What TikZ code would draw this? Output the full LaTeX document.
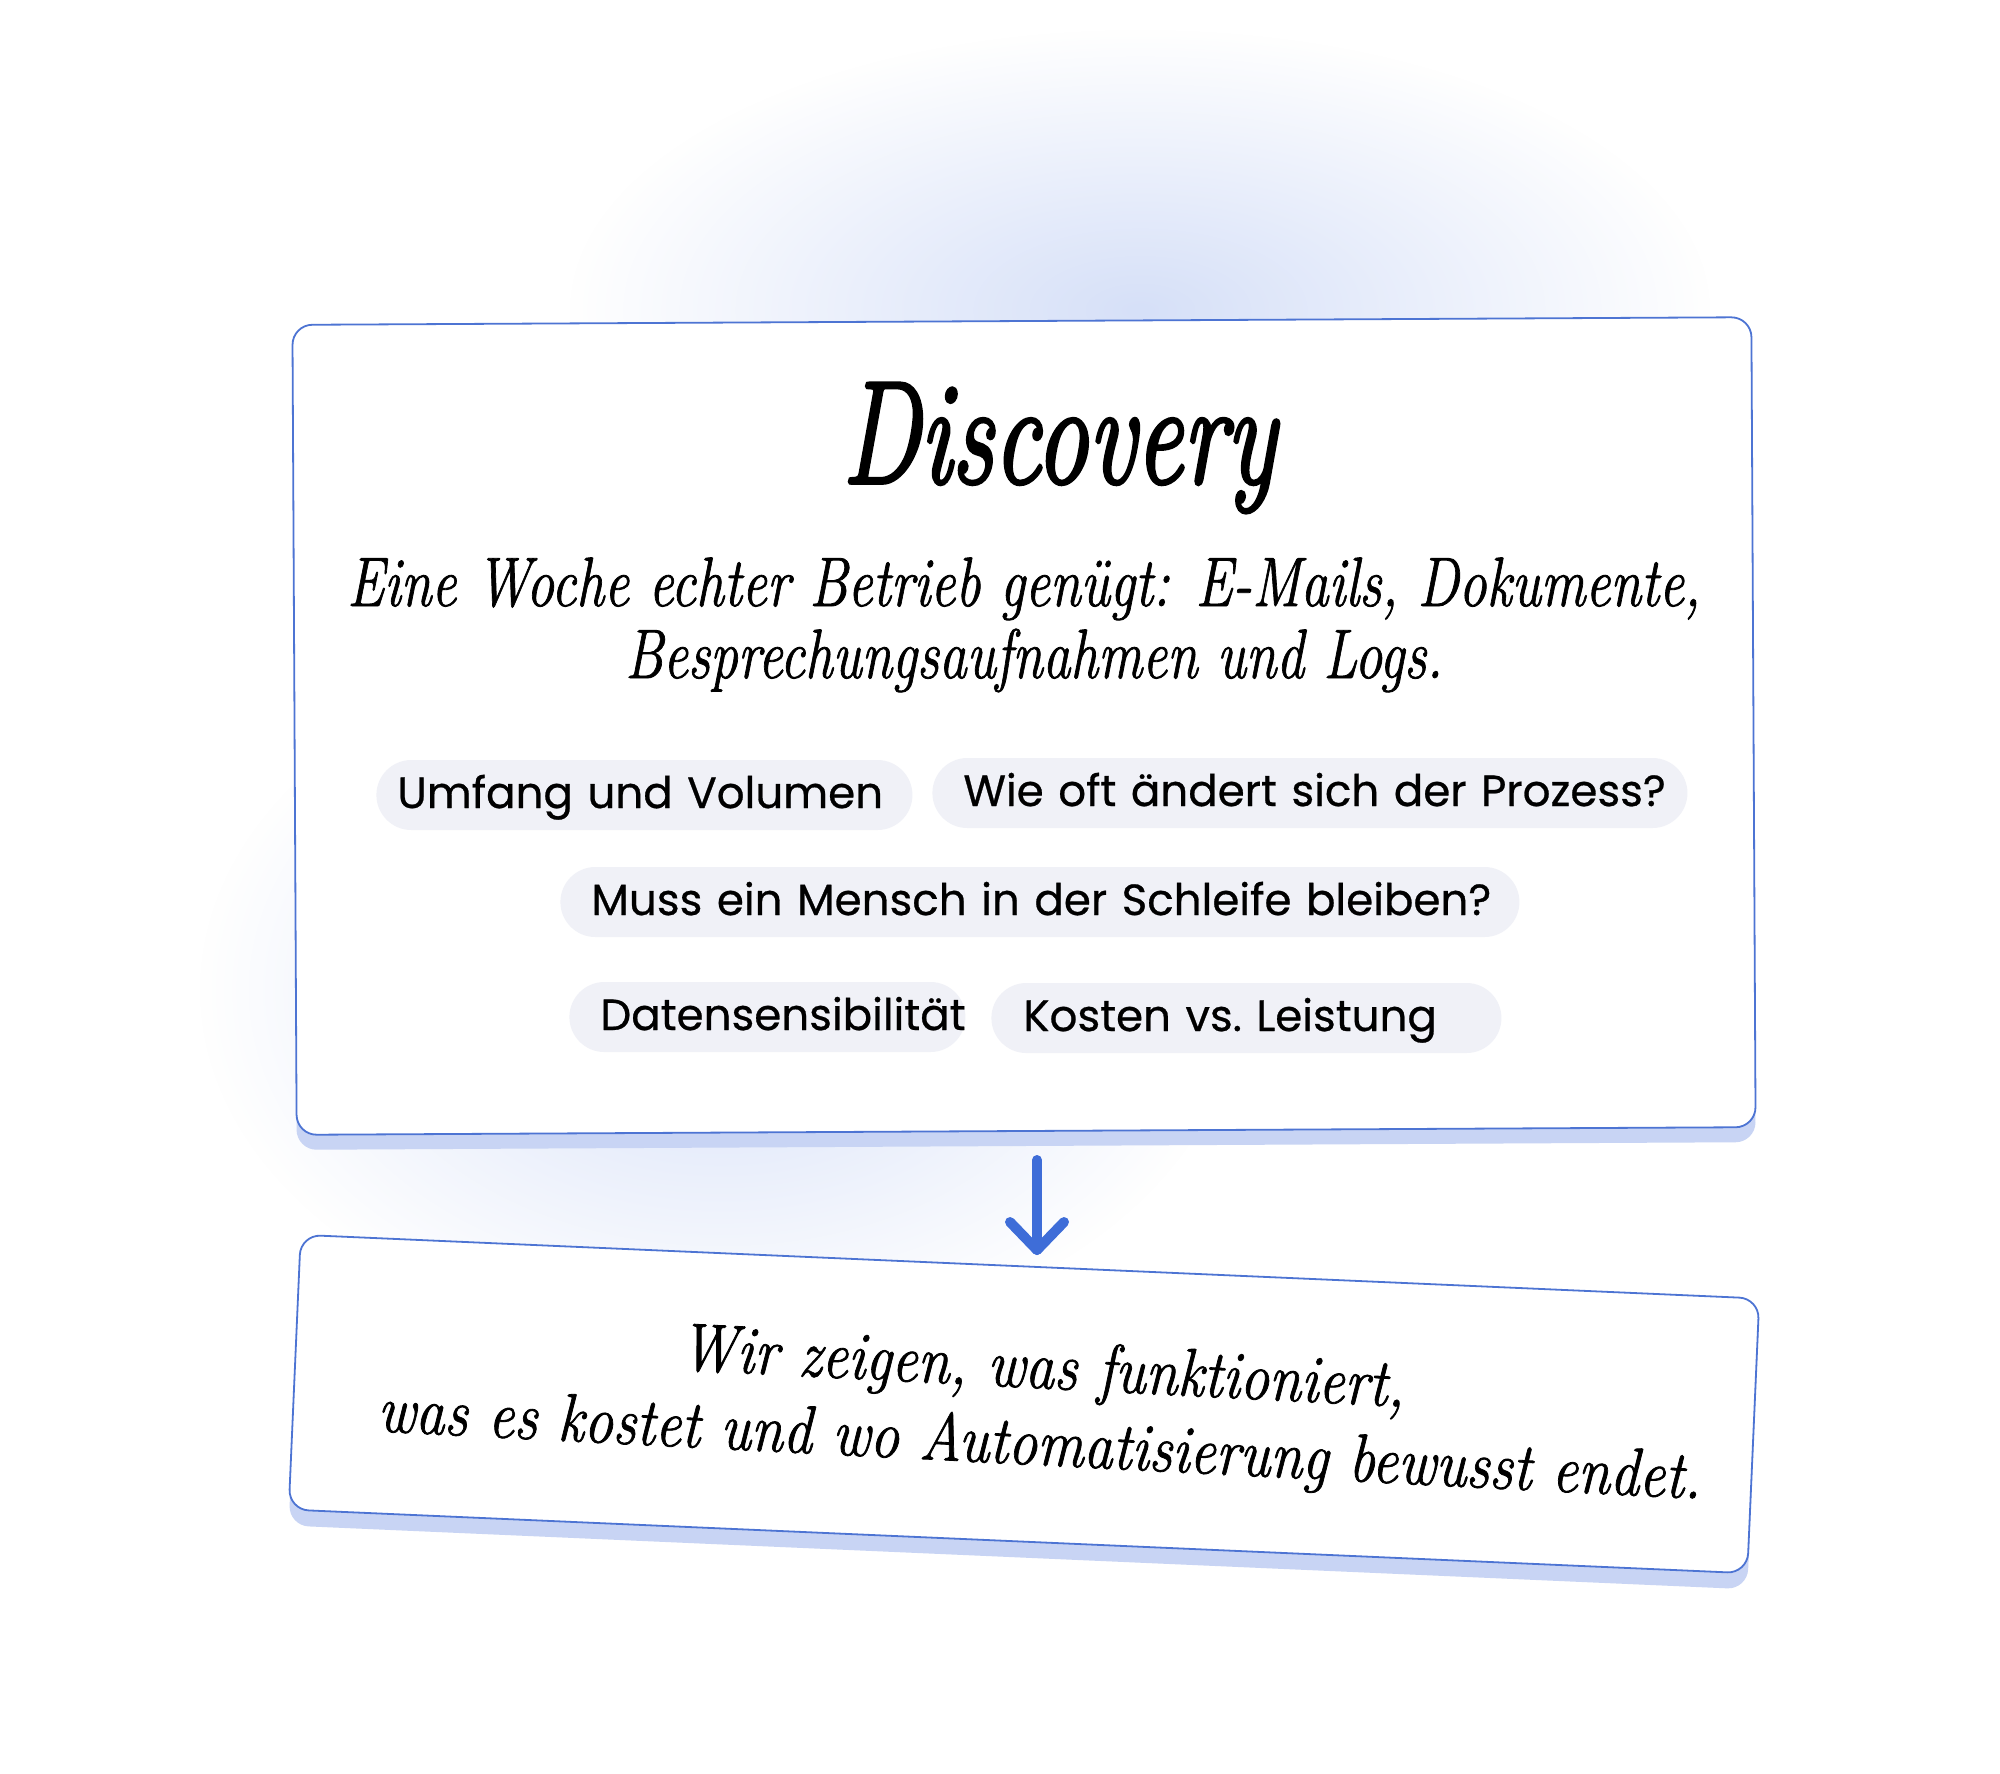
\documentclass[tikz,border=0pt]{standalone}
\usepackage{fontspec}
\setmainfont{Latin Modern Roman}
\newfontfamily\chipfont{Poppins}[FakeBold=0.6]
\newfontfamily\handfont{Latin Modern Roman}[FakeBold=1.2]
\newfontfamily\titlefont{Latin Modern Roman}[FakeBold=2.5]
\usetikzlibrary{fadings}
\definecolor{boxblue}{HTML}{4D74D3}
\definecolor{shadowblue}{HTML}{C8D4F4}
\definecolor{arrowblue}{HTML}{3E6DD8}
\definecolor{chipfill}{HTML}{F0F1F7}
\definecolor{glow}{HTML}{D6E0F8}
\tikzfading[name=glowfade, inner color=transparent!0, outer color=transparent!100]
\tikzset{
  card/.style={draw=boxblue, line width=0.9pt, fill=white, rounded corners=10pt, inner sep=0pt},
  cardshadow/.style={fill=shadowblue, rounded corners=10pt, inner sep=0pt},
  chip/.style={fill=chipfill, rounded corners=17.5pt, minimum height=35pt, inner ysep=0pt,
    text height=15.5pt, text depth=2.5pt, align=left, anchor=west,
    font=\chipfont\fontsize{21.8}{26}\selectfont\frenchspacing},
  hand/.style={inner sep=0pt, anchor=base},
  flowarrow/.style={draw=arrowblue, line width=5pt, line cap=round, line join=round},
}
\begin{document}
\begin{tikzpicture}[x=0.5pt,y=-0.5pt]
\useasboundingbox (0,0) rectangle (2000,1773);
\fill[white] (0,0) rectangle (2000,1773);
% soft glow
\fill[glow, path fading=glowfade] (1140,310) ellipse [x radius=570, y radius=280];
\fill[glow, path fading=glowfade] (720,990) ellipse [x radius=520, y radius=360];
% top card
\node[cardshadow, minimum width=729.5pt, minimum height=405pt, rotate=0.3] (topshadow) at (1024,741) {};
\node[card, minimum width=729.5pt, minimum height=405pt, rotate=0.3] (top) at (1024,726) {};
% bottom card
\node[cardshadow, minimum width=730pt, minimum height=137.5pt, rotate=-2.5] (botshadow) at (1024,1420) {};
\node[card, minimum width=730pt, minimum height=137.5pt, rotate=-2.5] (bot) at (1024,1404) {};
% title and subtitle
\node[hand, font=\titlefont\itshape\fontsize{73}{80}\selectfont, xscale=0.72] (title) at (1059,483) {Discovery};
\node[hand, font=\handfont\itshape\fontsize{35}{40}\selectfont, xscale=0.795] (sub1) at (1024,606) {Eine Woche echter Betrieb genügt: E-Mails, Dokumente,};
\node[hand, font=\handfont\itshape\fontsize{35}{40}\selectfont, xscale=0.79] (sub2) at (1034,678) {Besprechungsaufnahmen und Logs.};
% chips
\node[chip, inner xsep=10.5pt, text width=247pt] (c1) at (376,795) {\mbox{Umfang und Volumen}};
\node[chip, inner xsep=15.5pt, text width=346.5pt] (c2) at (932,793) {\mbox{Wie oft ändert sich der Prozess?}};
\node[chip, inner xsep=15.5pt, text width=448.5pt] (c3) at (560,902) {\mbox{Muss ein Mensch in der Schleife bleiben?}};
\node[chip, inner xsep=15.5pt, text width=167pt] (c4) at (569,1017) {\mbox{Datensensibilität}};
\node[chip, inner xsep=16pt, text width=223pt] (c5) at (991,1018) {\mbox{Kosten vs. Leistung}};
% arrow
\coordinate (a1) at (1037,1160);
\coordinate (a2) at (1037,1250);
\draw[flowarrow] (a1) -- (a2);
\draw[flowarrow] ([shift={(-27,-28)}]a2) -- (a2) -- ([shift={(27,-28)}]a2);
% bottom text
\node[hand, align=center, font=\handfont\itshape\fontsize{34}{38.4}\selectfont, xscale=0.855, rotate=-2.5] (btext) at (1039,1465) {Wir zeigen, was funktioniert,\\was es kostet und wo Automatisierung bewusst endet.};
\end{tikzpicture}
\end{document}
